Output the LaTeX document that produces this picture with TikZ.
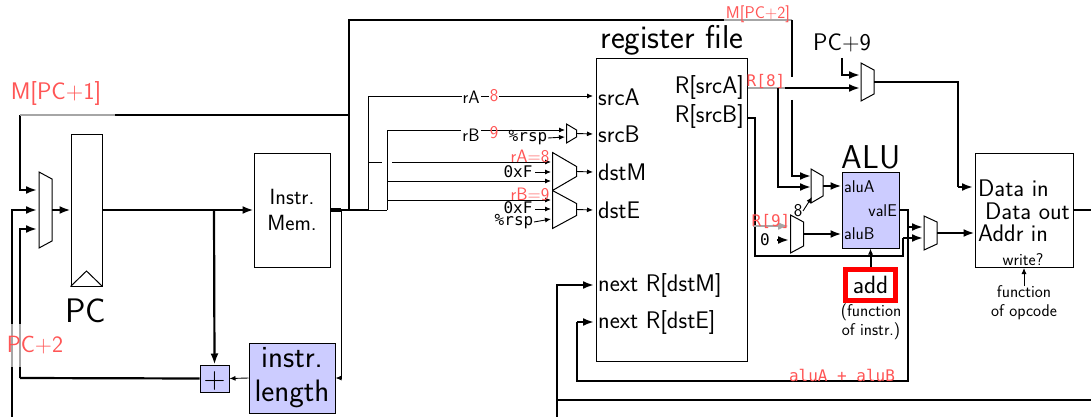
\documentclass[tikz,border=0pt]{standalone}
\usepackage{fontspec}
\setmonofont{DejaVu Sans Mono}
\usepackage{tikz}
\usetikzlibrary{arrows.meta, calc}
\definecolor{lblred}{HTML}{FF5555}
\definecolor{boxblue}{HTML}{CCCCFF}
\tikzset{
    wire/.style={line width=2.2pt, -{Latex[length=11pt,width=8pt]}},
    plainwire/.style={line width=2.2pt},
    thinwire/.style={line width=0.9pt, -{Latex[length=6pt,width=5pt]}},
    thinplain/.style={line width=0.9pt},
    fadewire/.style={line width=2pt, black!35},
    blockbox/.style={draw, line width=1pt, inner sep=0pt},
    muxbox/.style={inner sep=0pt, outer sep=0pt},
    redlbl/.style={text=lblred, inner sep=0pt},
    txt/.style={inner sep=0pt, font=\sffamily\fontsize{#1}{#1}\selectfont},
    mono/.style={inner sep=0pt, font=\ttfamily\fontsize{#1}{#1}\selectfont},
    halo/.style={fill=white, inner xsep=1pt, inner ysep=1pt},
}
\begin{document}
\begin{tikzpicture}[x=1pt, y=-1pt]
\useasboundingbox (0,0) rectangle (1091,417);

% Blocks
\node[blockbox, minimum width=31pt, minimum height=152pt] (pc) at (86.5,210) {};
\node[blockbox, align=center, minimum width=76pt, minimum height=114pt, txt=22] (imem) at (292,210) {Instr.\\[4pt]Mem.};
\node[blockbox, minimum width=151pt, minimum height=302pt] (regs) at (671.5,210) {};
\node[blockbox, fill=boxblue, minimum width=57pt, minimum height=76pt] (alu) at (870.5,210) {};
\node[blockbox, minimum width=98pt, minimum height=114pt] (dmem) at (1024,210) {};
\node[blockbox, fill=boxblue, align=center, minimum width=86pt, minimum height=70pt, txt=31] (ilen) at (292,378) {instr.\\[3pt]length};
\node[blockbox, fill=boxblue, minimum width=29pt, minimum height=27pt, txt=30, text height=19pt, text depth=0pt, text width=22pt, align=center] (plus) at (214.5,378.5) {+};
\node[draw=red, line width=5pt, minimum width=50pt, minimum height=31pt, inner sep=0pt, txt=25] (add) at (870.5,285) {add};

% PC clock mark
\draw[line width=1pt] (pc.south west) -- (86.5,271) -- (pc.south east);

% Muxes: name / x / y / width / height / drop
\foreach \muxname/\x/\y/\w/\h/\d in {mpc/45.5/210/13/76/7, mb/571.5/133.5/10/19/6, mm/564.5/171.5/24/38/14, me/564.5/209.5/24/38/13, ma/817/186/12/34/7, mi/797/234/13/38/7, mv/930.5/233/13/34/6, mn/867.5/82/13/38/7}{
    \node[muxbox, minimum width=\w pt, minimum height=\h pt] (\muxname) at (\x,\y) {};
    \draw[line width=1pt] (\muxname.north west) -- ++(\w,\d) -- ($(\muxname.south east)+(0,\d pt)$) -- (\muxname.south west) -- cycle;
}

% Wire corners and mux inputs
\foreach \n/\x/\y in {a/20/115, b/115/115, c/349/115, d/349/20, e/724/20, f/792/20, g/792/77, h/792/100, i/792/176, j/785/88, k/778/88, l/778/187,
    pca/37/190, pcb/37/210, pcc/37/229, lowa/12/417, lowb/12/210, backa/20/378, backb/20/229, pcgapa/12/324, pcgapb/12/367, pcgapc/20/324, pcgapd/20/367,
    imout/349/210, imoutb/368/210, imoutc/387/210, imthin/341/210, imthinb/341/378, fork/214/210,
    ra/368/96, rb/387/130, rc/369/162, rd/382/162, re/392/162, rf/387/181, rg/387/200,
    sa/593/96, sb/565/130, sc/565/137, sd/548/138, ta/551/162, tb/551/172, tc/535/172, td/551/181, te/551/200, tf/551/209, tg/535/209, th/551/219, ti/534/222,
    ua/593/172, ub/593/210, uc/593/134,
    na/860/75, nb/842/58, nc/842/75, nd/860/88, ne/958/82, nf/958/187, ng/973/187, nh/973/233,
    sra/755/118, srb/755/256, src/903/256, srd/903/238, sre/923/238, va/908/210, vb/908/227, vc/923/227, vd/908/381, ve/577/381, vf/577/322, vg/594/322,
    bota/1091/400, botb/557/400, botc/557/417, botd/557/285, bote/594/285,
    out/1091/210, ninea/753/226, ninec/789/226, zeroa/777/240, zerob/789/240, ea/803/211, eb/812/197, fa/1024/286, fb/1024/268}
    \coordinate (\n) at (\x,\y);

% Thick wires
\draw[wire] (a) |- (pca);
\draw[plainwire] (b) -- (c) -- (imout);
\draw[plainwire] (c) -- (d) -- (e);
\draw[fadewire] (a) -- (b) (e) -- (f);
\draw[plainwire] (f) -- (g);
\draw[wire] (h) -- (i) -- (i -| ma.west);
\draw[wire] (lowa) -- (lowb) -- (pcb);
\draw[wire] (backa) -- (backb) -- (pcc);
\draw[plainwire] (plus.west) -- (backa);
\draw[wire] (mpc.east) -- (pc.west);
\draw[wire] (pc.east) -- (imem.west);
\draw[wire] (fork) -- (plus.north);
\draw[line width=3.5pt] (imem.east) -- (imthin);
\draw[plainwire] (imthin) -- (imout);
\draw[fadewire] (regs.east |- j) -- (j);
\draw[wire] (j) -- (nd);
\draw[wire] (k) -- (l) -- (l -| ma.west);
\draw[wire] (nb) -- (nc) -- (na);
\draw[plainwire] (mn.east) -| (nf);
\draw[wire] (nf) -- (ng);
\draw[plainwire] (regs.east |- sra) -- (sra) -- (srb) -- (src) -- (srd);
\draw[wire] (srd) -- (sre);
\draw[plainwire] (alu.east |- va) -- (va) -- (vd) -- (ve) -- (vf);
\draw[wire] (vb) -- (vc);
\draw[wire] (vf) -- (vg);
\draw[plainwire] (bota) -- (botb);
\draw[wire] (botc) -- (botd) -- (bote);
\draw[plainwire] (dmem.east |- out) -- (out);
\draw[wire] (ma.east) -- (alu.west |- ma);
\draw[wire] (mi.east) -- (alu.west |- mi);
\draw[wire] (mv.east) -- (dmem.west |- mv);
\draw[thinwire, line width=2pt] (add.north) -- (alu.south);
\draw[wire] (zeroa) -- (zerob);

% Thin wires
\draw[line width=1.5pt] (imout) -- (imoutb);
\draw[thinplain] (imoutb) -- (imoutc);
\draw[thinwire] (imoutb) |- (sa);
\draw[thinwire] (imoutc) |- (rb) -- (sb);
\draw[thinplain] (rc) -- (rd);
\draw[thinwire] (re) -- (ta);
\draw[thinwire] (rf) -- (td);
\draw[thinwire] (rg) -- (te);
\draw[thinwire] (tc) -- (tb);
\draw[thinwire] (tg) -- (tf);
\draw[thinwire] (ti) -- (th);
\draw[thinwire] (sd) -- (sc);
\draw[thinwire] (mb.east) -- (uc);
\draw[thinwire] (mm.east) -- (ua);
\draw[thinwire] (me.east) -- (ub);
\draw[thinwire] (imthin) -- (imthinb) -- (ilen.east);
\draw[thinwire] (ilen.west) -- (plus.east);
\draw[thinwire] (ea) -- (eb);
\draw[thinwire] (fa) -- (fb);
\draw[wire, black!35] (ninea) -- (ninec);
\draw[fadewire] (pcgapa) -- (pcgapb) (pcgapc) -- (pcgapd);

% Register file and block labels
\node[txt=33] (regtitle) at (672,40) {register file};
\node[txt=33] (alutitle) at (871,157) {ALU};
\node[txt=34] (pctitle) at (86,311) {PC};
\foreach \n/\t/\y in {lsa/srcA/97, lsb/srcB/134, lda/dstM/172, lde/dstE/210, lnm/{next R[dstM]}/285, lne/{next R[dstE]}/322}
    \node[txt=24, anchor=west] (\n) at (598,\y) {\t};
\node[txt=24, anchor=east] (lra) at (744,88) {R[srcA]};
\node[txt=24, anchor=east] (lrb) at (744,117) {R[srcB]};
\node[txt=17, anchor=west] (laa) at (844,187) {aluA};
\node[txt=17, anchor=east] (lve) at (897,211) {valE};
\node[txt=17, anchor=west] (lab) at (844,234) {aluB};
\node[txt=24, anchor=west] (ldi) at (978,188) {Data in};
\node[txt=24, anchor=east] (ldo) at (1070,211) {Data out};
\node[txt=24, anchor=west] (lad) at (978,233) {Addr in};
\node[txt=17] (lwr) at (1023,260) {write?};
\node[txt=17, align=center] (lfo) at (1024,303) {function\\[2pt]of opcode};
\node[txt=17, align=center] (lfi) at (871,322) {(function\\[2pt]of instr.)};
\node[txt=24] (lpn) at (842,43) {PC+9};
\node[txt=18] (leight) at (798,211) {8};

% Selector labels
\node[txt=18, halo] (lra2) at (471,97) {rA};
\node[txt=18, halo] (lrb2) at (471,135) {rB};
\node[mono=16] (lrsa) at (528,138) {\%rsp};
\node[mono=16] (lf1) at (518,172) {0xF};
\node[mono=16] (lf2) at (518,208) {0xF};
\node[mono=16] (lrsb) at (514,222) {\%rsp};
\node[mono=16] (lzero) at (765,240) {0};

% Red value labels
\node[redlbl, txt=24] (mpa) at (56,94) {M[PC+1]};
\node[redlbl, txt=23.5] (pcb2) at (35,345) {PC+2};
\node[redlbl, txt=17] (mpb) at (758,14) {M[PC+2]};
\node[redlbl, txt=18, fill=white, inner xsep=1pt] (leighta) at (494,96) {8};
\node[redlbl, txt=18] (lninea) at (494,133) {9};
\node[redlbl, txt=18] (lrae) at (530,156) {rA=8};
\node[redlbl, txt=18] (lrbn) at (530,194) {rB=9};
\node[redlbl, mono=16] (lrei) at (766,81) {R[8]};
\node[redlbl, mono=16] (lrni) at (771,221) {R[9]};
\node[redlbl, mono=16] (lsum) at (842,375) {aluA + aluB};
\end{tikzpicture}
\end{document}
